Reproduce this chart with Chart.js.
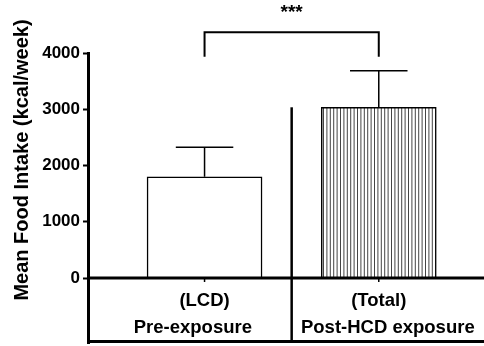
<!DOCTYPE html>
<html>
<head>
<meta charset="utf-8">
<script src="https://cdn.jsdelivr.net/npm/chart.js@4/dist/chart.umd.min.js"></script>
<style>
  html, body { margin: 0; padding: 0; background: #fff; }
  #wrap { width: 484px; height: 346px; }
</style>
</head>
<body>
<div id="wrap"><canvas id="intakeChart"></canvas></div>
<script>
const groups = ["(LCD)", "(Total)"];
const phases = ["Pre-exposure", "Post-HCD exposure"];
const meanIntake = [1800, 3035];
const semIntake = [524, 650];
const yTicks = [0, 1000, 2000, 3000, 4000];
const yTitle = "Mean Food Intake (kcal/week)";
const sigLabel = "***";
const sigLevels = [4370, 3935]; // bracket top and feet, kcal/week

const FONT = "'Liberation Sans', Arial, sans-serif";

// vertical stripes for the post-HCD bar
function stripes() {
  const c = document.createElement("canvas");
  c.width = 17;
  c.height = 4;
  const g = c.getContext("2d");
  g.fillStyle = "#fff";
  g.fillRect(0, 0, 17, 4);
  g.fillStyle = "#444";
  for (let k = 0; k < 5; k++) g.fillRect(k * 3.4, 0, 1, 4);
  return g.createPattern(c, "repeat");
}

// error bars, bracket, table under the axis and the y title
const extras = {
  id: "extras",
  afterDraw(chart) {
    const { ctx, chartArea: a, scales: { x, y } } = chart;
    const y0 = y.getPixelForValue(0);
    const meta = chart.getDatasetMeta(0);
    ctx.save();
    ctx.strokeStyle = "#000";
    ctx.fillStyle = "#000";

    // error bars (upper only)
    ctx.lineWidth = 1.5;
    meanIntake.forEach((m, i) => {
      const cx = x.getPixelForValue(i + 1);
      const half = meta.data[i].width / 4;
      const top = y.getPixelForValue(m + semIntake[i]);
      ctx.beginPath();
      ctx.moveTo(cx, y.getPixelForValue(m));
      ctx.lineTo(cx, top);
      ctx.moveTo(cx - half, top);
      ctx.lineTo(cx + half, top);
      ctx.stroke();
      // small tick under the zero line
      ctx.beginPath();
      ctx.moveTo(cx, y0);
      ctx.lineTo(cx, y0 + 4);
      ctx.stroke();
    });

    // zero line and bottom of the table
    ctx.lineWidth = 3;
    ctx.beginPath();
    ctx.moveTo(a.left, y0);
    ctx.lineTo(a.right, y0);
    ctx.moveTo(a.left, a.bottom - 1.5);
    ctx.lineTo(a.right, a.bottom - 1.5);
    ctx.stroke();

    // separator between the two groups
    const sx = x.getPixelForValue(1.5);
    ctx.lineWidth = 2.5;
    ctx.beginPath();
    ctx.moveTo(sx, y.getPixelForValue(meanIntake[1]));
    ctx.lineTo(sx, a.bottom);
    ctx.stroke();

    // significance bracket
    const x1 = x.getPixelForValue(1), x2 = x.getPixelForValue(2);
    const by = y.getPixelForValue(sigLevels[0]);
    const fy = y.getPixelForValue(sigLevels[1]);
    ctx.lineWidth = 2;
    ctx.beginPath();
    ctx.moveTo(x1, fy);
    ctx.lineTo(x1, by);
    ctx.lineTo(x2, by);
    ctx.lineTo(x2, fy);
    ctx.stroke();
    ctx.textAlign = "center";
    ctx.textBaseline = "middle";
    ctx.font = "bold 19px " + FONT;
    ctx.fillText(sigLabel, sx, by - 19);

    // group labels
    ctx.font = "bold 18.5px " + FONT;
    groups.forEach((g, i) => {
      ctx.fillText(g, x.getPixelForValue(i + 1), y0 + 23);
    });
    ctx.fillText(phases[0], (a.left + sx) / 2 + 3, y0 + 50);
    ctx.fillText(phases[1], (sx + a.right) / 2, y0 + 50);

    // y title
    ctx.translate(22.5, 160);
    ctx.rotate(-Math.PI / 2);
    ctx.font = "bold 20px " + FONT;
    ctx.fillText(yTitle, 0, 0);
    ctx.restore();
  }
};

new Chart(document.getElementById("intakeChart"), {
  type: "bar",
  data: {
    datasets: [{
      data: meanIntake.map((v, i) => ({ x: i + 1, y: v })),
      backgroundColor: ["#fff", stripes()],
      borderColor: "#000",
      borderWidth: 1.5,
      barThickness: 115
    }]
  },
  options: {
    responsive: true,
    maintainAspectRatio: false,
    animation: false,
    layout: { padding: { top: 53, right: 0, bottom: 3, left: 0 } },
    plugins: { legend: { display: false }, tooltip: { enabled: false } },
    scales: {
      x: { type: "linear", display: false, offset: false, min: 0.331, max: 2.604 },
      y: {
        min: -1155,
        max: 4000,
        afterBuildTicks: s => { s.ticks = yTicks.map(v => ({ value: v })); },
        afterFit: s => {
          s.width = 88;
          s.paddingTop = 0;
          s.paddingBottom = 0;
        },
        grid: { drawOnChartArea: false, tickLength: 5, tickColor: "#000", tickWidth: 2 },
        border: { color: "#000", width: 3 },
        ticks: {
          color: "#000",
          padding: 3,
          font: { family: FONT, size: 17, weight: "bold" },
          callback: v => String(v)
        }
      }
    }
  },
  plugins: [extras]
});
</script>
</body>
</html>
